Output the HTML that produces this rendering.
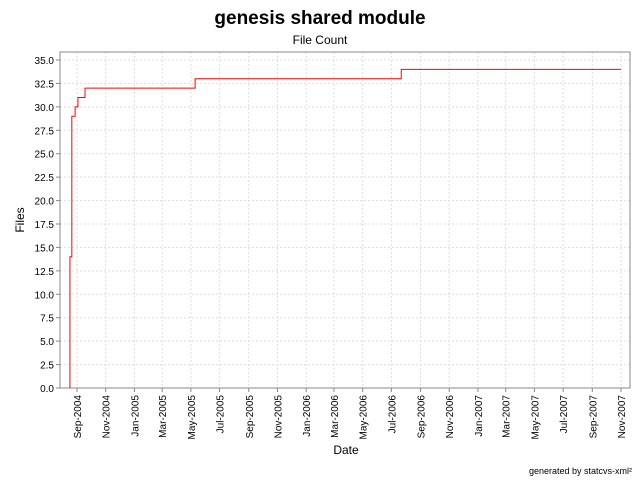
<!DOCTYPE html>
<html><head><meta charset="utf-8"><style>
body{margin:0;background:#fff;font-family:"Liberation Sans",sans-serif}
</style></head><body>
<svg width="640" height="480" xmlns="http://www.w3.org/2000/svg" font-family="Liberation Sans, sans-serif">
<rect width="640" height="480" fill="#fff"/>
<text x="320" y="24" text-anchor="middle" font-size="19" font-weight="bold">genesis shared module</text>
<text x="320" y="44" text-anchor="middle" font-size="12">File Count</text>
<g id="grid"></g>
<rect x="60" y="52" width="570" height="336" fill="none" stroke="#888"/>
<g id="axes"></g>
<path id="line" fill="none" stroke="#ff0000" stroke-width="1"/>
<text x="24" y="220" text-anchor="middle" font-size="12" transform="rotate(-90 24 220)">Files</text>
<text x="346" y="454" text-anchor="middle" font-size="12">Date</text>
<text x="632" y="474" text-anchor="end" font-size="9">generated by statcvs-xml²</text>
</svg>
<script>
const yTicks=[0,2.5,5,7.5,10,12.5,15,17.5,20,22.5,25,27.5,30,32.5,35];
const xTickLabels=["Sep-2004","Nov-2004","Jan-2005","Mar-2005","May-2005","Jul-2005","Sep-2005","Nov-2005","Jan-2006","Mar-2006","May-2006","Jul-2006","Sep-2006","Nov-2006","Jan-2007","Mar-2007","May-2007","Jul-2007","Sep-2007","Nov-2007"];
const xTickDates=["2004-09-01","2004-11-01","2005-01-01","2005-03-01","2005-05-01","2005-07-01","2005-09-01","2005-11-01","2006-01-01","2006-03-01","2006-05-01","2006-07-01","2006-09-01","2006-11-01","2007-01-01","2007-03-01","2007-05-01","2007-07-01","2007-09-01","2007-11-01"];
const dates=["2004-08-17","2004-08-21","2004-08-28","2004-09-03","2004-09-18","2005-05-10","2006-07-22","2007-11-01"];
const files=[14,29,30,31,32,33,34,34];
const NS="http://www.w3.org/2000/svg";
const t0=Date.parse("2004-09-01");
function X(d){return 77+(Date.parse(d)-t0)/86400000*0.4706;}
function Y(v){return 388-v*(328/35);}
const grid=document.getElementById('grid'),axes=document.getElementById('axes');
function mk(tag,attrs,parent){const e=document.createElementNS(NS,tag);for(const k in attrs)e.setAttribute(k,attrs[k]);parent.appendChild(e);return e;}
yTicks.forEach(v=>{
 const y=Y(v);
 const g=mk('line',{x1:60,x2:630,y1:y,y2:y,stroke:'#ddd','stroke-dasharray':'2,2'},grid);
 
 
 mk('line',{x1:56,x2:60,y1:y,y2:y,stroke:'#888'},axes);
 const t=mk('text',{x:54,y:y+4,'text-anchor':'end','font-size':10},axes);
 t.textContent=v.toFixed(1);
 
 
});
xTickDates.forEach((d,i)=>{
 const x=X(d);
 const g=mk('line',{x1:x,x2:x,y1:52,y2:388,stroke:'#ddd','stroke-dasharray':'2,2'},grid);
 
 
 mk('line',{x1:x,x2:x,y1:388,y2:392,stroke:'#888'},axes);
 const t=mk('text',{x:x+4,y:395,'text-anchor':'end','font-size':10,transform:`rotate(-90 ${x+4} 395)`},axes);
 t.textContent=xTickLabels[i];
 
 
});
let d=`M${X(dates[0])},${Y(0)} L${X(dates[0])},${Y(files[0])}`;
for(let i=1;i<dates.length;i++){d+=` L${X(dates[i])},${Y(files[i-1])} L${X(dates[i])},${Y(files[i])}`;}
document.getElementById('line').setAttribute('d',d);
</script>
</body></html>
